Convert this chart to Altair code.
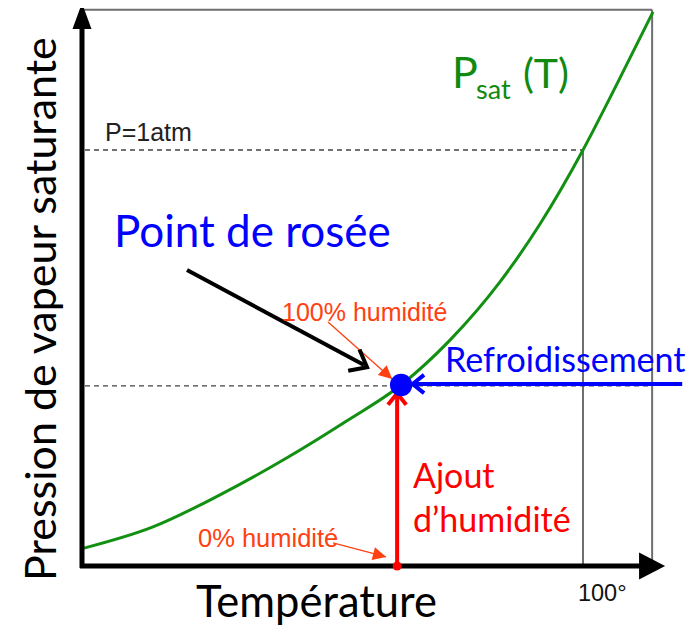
import altair as alt
import pandas as pd

# ---------------- data (T in degrees, P in atm, schematic) ----------------
curve_T = [0.40, 14.17, 27.54, 40.92, 52.89, 63.67, 73.45, 83.43, 91.42, 100.0, 106.79, 113.97]
curve_P = [0.043, 0.094, 0.171, 0.260, 0.349, 0.435, 0.543, 0.683, 0.822, 1.0, 1.159, 1.332]

# gray frame lines: (T, P, T2, P2)
frame_T = [0.0, 113.8, 100.0]
frame_P = [1.337, 0.0, 0.0]
frame_T2 = [113.8, 113.8, 100.0]
frame_P2 = [1.337, 1.337, 1.0]

# dashed guide lines
dash_T = [0.6, 0.6]
dash_P = [1.0, 0.433]
dash_T2 = [100.0, 113.8]
dash_P2 = [1.0, 0.433]

# thick black axes
axis_T = [0.0, -0.4]
axis_P = [-0.005, 0.0]
axis_T2 = [0.0, 111.8]
axis_P2 = [1.30, 0.0]

# annotation shafts
shaft_T = [20.96, 119.8, 62.9, 49.1, 50.1]
shaft_P = [0.7115, 0.4375, 0.0, 0.5865, 0.0553]
shaft_T2 = [56.3, 66.3, 62.9, 61.9, 60.7]
shaft_P2 = [0.483, 0.4375, 0.409, 0.4495, 0.0216]
shaft_color = ["#000000", "#0000ff", "#ff0000", "#ff4010", "#ff4010"]
shaft_width = [4, 4, 4, 1.3, 1.3]

# open chevron heads
chev_T = [56.9, 66.0, 62.9]
chev_P = [0.478, 0.4375, 0.415]
chev_angle = [28, 180, 270]
chev_size = [900, 520, 520]
chev_color = ["#000000", "#0000ff", "#ff0000"]

# filled orange heads
tri_T = [61.9, 60.7]
tri_P = [0.4495, 0.0216]
tri_angle = [41.7, 14.8]

# dots
dot_T = [63.7, 62.9]
dot_P = [0.435, 0.0]
dot_size = [500, 80]
dot_color = ["#0000ff", "#ff0000"]

# texts (humanist font)
lab_text = ["Point de rosée", "Refroidissement", "Ajout", "d’humidité", "Température",
            "Pression de vapeur saturante", "P", "sat", "(T)"]
lab_T = [6.39, 72.46, 66.07, 66.07, 22.75, -5.19, 73.85, 78.64, 88.0]
lab_P = [0.7668, 0.4663, 0.1875, 0.0817, -0.1226, -0.036, 1.149, 1.1226, 1.149]
lab_size = [44, 34, 34, 34, 43.5, 43, 43, 27, 41]
lab_color = ["#0000ff", "#0000ff", "#ff0000", "#ff0000", "#000000", "#000000",
             "#108a10", "#108a10", "#108a10"]
lab_angle = [0, 0, 0, 0, 0, 270, 0, 0, 0]

# texts (narrow font)
small_text = ["P=1atm", "100% humidité", "0% humidité", "100°"]
small_T = [4.59, 39.92, 23.15, 99.0]
small_P = [1.0216, 0.589, 0.0457, -0.0841]
small_size = [25, 25, 25.5, 23.5]
small_color = ["#222222", "#ff4010", "#ff4010", "#111111"]

# ---------------- scales ----------------
xs = alt.Scale(domain=[-14.77, 120.56], nice=False, zero=False)
ys = alt.Scale(domain=[-0.1443, 1.3413], nice=False, zero=False)


def X(f):
    return alt.X(f, type="quantitative", scale=xs, axis=None)


def Y(f):
    return alt.Y(f, type="quantitative", scale=ys, axis=None)


def rules(T, P, T2, P2, **extra):
    d = {"T": T, "P": P, "T2": T2, "P2": P2}
    d.update(extra)
    return pd.DataFrame(d)


curve_df = pd.DataFrame({"T": curve_T, "P": curve_P})
curve = alt.Chart(curve_df).mark_line(color="#129012", strokeWidth=3, interpolate="monotone").encode(
    x=X("T"), y=Y("P"))

frame = alt.Chart(rules(frame_T, frame_P, frame_T2, frame_P2)).mark_rule(
    color="#6e6e6e", strokeWidth=2).encode(x=X("T"), y=Y("P"), x2="T2", y2="P2")

dashed = alt.Chart(rules(dash_T, dash_P, dash_T2, dash_P2)).mark_rule(
    color="#444444", strokeWidth=1.3, strokeDash=[5, 4]).encode(x=X("T"), y=Y("P"), x2="T2", y2="P2")

axes = alt.Chart(rules(axis_T, axis_P, axis_T2, axis_P2)).mark_rule(
    color="#000000", strokeWidth=5).encode(x=X("T"), y=Y("P"), x2="T2", y2="P2")

yarrow = alt.Chart(pd.DataFrame({"T": [0.0], "P": [1.322]})).mark_point(
    shape="M0,-1L0.73,1L-0.73,1Z", filled=True, color="#000000", opacity=1, size=676).encode(
    x=X("T"), y=Y("P"))
xarrow = alt.Chart(pd.DataFrame({"T": [113.7], "P": [0.0]})).mark_point(
    shape="M1,0L-0.93,1L-0.93,-1Z", filled=True, color="#000000", opacity=1, size=729).encode(
    x=X("T"), y=Y("P"))

shafts = alt.Chart(rules(shaft_T, shaft_P, shaft_T2, shaft_P2, c=shaft_color, w=shaft_width)).mark_rule().encode(
    x=X("T"), y=Y("P"), x2="T2", y2="P2",
    color=alt.Color("c:N", scale=None),
    strokeWidth=alt.StrokeWidth("w:Q", scale=None))

chev = alt.Chart(pd.DataFrame({"T": chev_T, "P": chev_P, "a": chev_angle, "s": chev_size,
                               "c": chev_color})).mark_point(
    shape="M-1,-0.8L0,0L-1,0.8", filled=False, strokeWidth=4, opacity=1).encode(
    x=X("T"), y=Y("P"),
    angle=alt.Angle("a:Q", scale=None),
    size=alt.Size("s:Q", scale=None),
    color=alt.Color("c:N", scale=None))

tri = alt.Chart(pd.DataFrame({"T": tri_T, "P": tri_P, "a": tri_angle})).mark_point(
    shape="M0,0L-1,-0.5L-1,0.5Z", filled=True, color="#ff4010", opacity=1, size=700).encode(
    x=X("T"), y=Y("P"), angle=alt.Angle("a:Q", scale=None))

dots = alt.Chart(pd.DataFrame({"T": dot_T, "P": dot_P, "s": dot_size, "c": dot_color})).mark_point(
    shape="circle", filled=True, opacity=1).encode(
    x=X("T"), y=Y("P"),
    size=alt.Size("s:Q", scale=None),
    color=alt.Color("c:N", scale=None))

labels = alt.Chart(pd.DataFrame({"t": lab_text, "T": lab_T, "P": lab_P, "s": lab_size,
                                 "c": lab_color, "a": lab_angle})).mark_text(
    font="Lato", align="left", baseline="alphabetic").encode(
    x=X("T"), y=Y("P"), text="t:N",
    size=alt.Size("s:Q", scale=None),
    color=alt.Color("c:N", scale=None),
    angle=alt.Angle("a:Q", scale=None))

small = alt.Chart(pd.DataFrame({"t": small_text, "T": small_T, "P": small_P, "s": small_size,
                                "c": small_color})).mark_text(
    font="Liberation Sans", align="left", baseline="alphabetic").encode(
    x=X("T"), y=Y("P"), text="t:N",
    size=alt.Size("s:Q", scale=None),
    color=alt.Color("c:N", scale=None))

chart = alt.layer(frame, dashed, curve, axes, yarrow, xarrow, shafts, chev, tri, dots, labels, small).properties(
    width=678, height=618, padding=0, autosize="none", background="white"
).configure_view(stroke=None)

chart.save("out.html", embed_options={"renderer": "svg", "actions": False})
